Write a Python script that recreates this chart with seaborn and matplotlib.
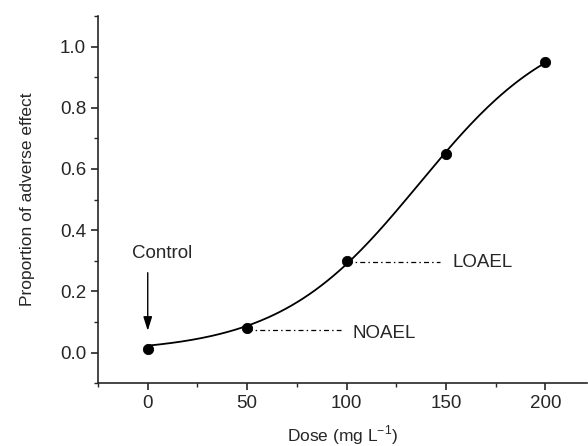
import numpy as np
import pandas as pd
import matplotlib
matplotlib.use("Agg")
import matplotlib.pyplot as plt
from matplotlib.ticker import MultipleLocator
import seaborn as sns

# dose-response data
dose = [0, 50, 100, 150, 200]
response = [0.01, 0.08, 0.30, 0.65, 0.95]

noael_dose = 50
loael_dose = 100
guide_len = 47  # length of the dash-dot guide lines, in dose units

df = pd.DataFrame({"dose": dose, "response": response})


# sigmoid fit of the points (least squares, gauss-newton)
def sigmoid(x, p):
    top, x0, k = p
    return top / (1 + np.exp(-(x - x0) / k))


x = np.array(dose, dtype=float)
y = np.array(response, dtype=float)
p = np.array([1.0, 130.0, 30.0])
for _ in range(100):
    r = y - sigmoid(x, p)
    J = np.empty((len(x), 3))
    for i in range(3):
        dp = np.zeros(3)
        dp[i] = 1e-6 * max(abs(p[i]), 1)
        J[:, i] = (sigmoid(x, p + dp) - sigmoid(x, p)) / dp[i]
    step = np.linalg.lstsq(J, r, rcond=None)[0]
    p = p + step
    if np.abs(step).max() < 1e-10:
        break

xx = np.linspace(min(dose), max(dose), 200)
fit = pd.DataFrame({"dose": xx, "response": sigmoid(xx, p)})

sns.set_style("ticks")
plt.rcParams["font.family"] = ["Liberation Sans", "DejaVu Sans"]
plt.rcParams["mathtext.fontset"] = "custom"
plt.rcParams["mathtext.rm"] = "Liberation Sans"

fig = plt.figure(figsize=(5.88, 4.46), dpi=100)
ax = fig.add_axes([0.1667, 0.141, 0.832, 0.823])

sns.lineplot(data=fit, x="dose", y="response", color="black", lw=1.3, ax=ax)
sns.scatterplot(data=df, x="dose", y="response", color="black", s=55,
                edgecolor="black", zorder=5, ax=ax)

# NOAEL / LOAEL guides
for d, lab in [(noael_dose, "NOAEL"), (loael_dose, "LOAEL")]:
    r = df.loc[df["dose"] == d, "response"].iloc[0]
    yy = r - 0.005
    ax.plot([d, d + guide_len], [yy, yy], color="black", lw=0.9,
            linestyle=(0, (4, 2.5, 1.2, 2.5)))
    ax.text(d + guide_len + 6, yy - (0.013 if lab == "NOAEL" else 0), lab,
            fontsize=13.5, va="center", ha="left")

# control arrow
ax.annotate("", xy=(dose[0], 0.062), xytext=(dose[0], 0.27),
            arrowprops=dict(arrowstyle="-|>,head_length=0.7,head_width=0.22",
                            color="black", lw=1, mutation_scale=12))
ax.text(dose[0] + 7, 0.325, "Control", fontsize=13.5, ha="center", va="center")

ax.set_xlim(-25, 221)
ax.set_ylim(-0.1, 1.1)
ax.set_xticks([0, 50, 100, 150, 200])
ax.set_yticks([0.0, 0.2, 0.4, 0.6, 0.8, 1.0])
ax.set_yticklabels(["0.0", "0.2", "0.4", "0.6", "0.8", "1.0"])
ax.xaxis.set_minor_locator(MultipleLocator(25))
ax.yaxis.set_minor_locator(MultipleLocator(0.1))
ax.tick_params(which="major", direction="out", length=5, width=1.2, labelsize=13.5)
ax.tick_params(which="minor", direction="out", length=3, width=1.0)
for s in ["left", "bottom"]:
    ax.spines[s].set_linewidth(1.2)
sns.despine(ax=ax)

ax.set_xlabel(r"Dose (mg L$^{-1}$)", fontsize=12.5, labelpad=8)
ax.set_ylabel("Proportion of adverse effect", fontsize=12.5, labelpad=18)

fig.savefig("out.png", dpi=100)
